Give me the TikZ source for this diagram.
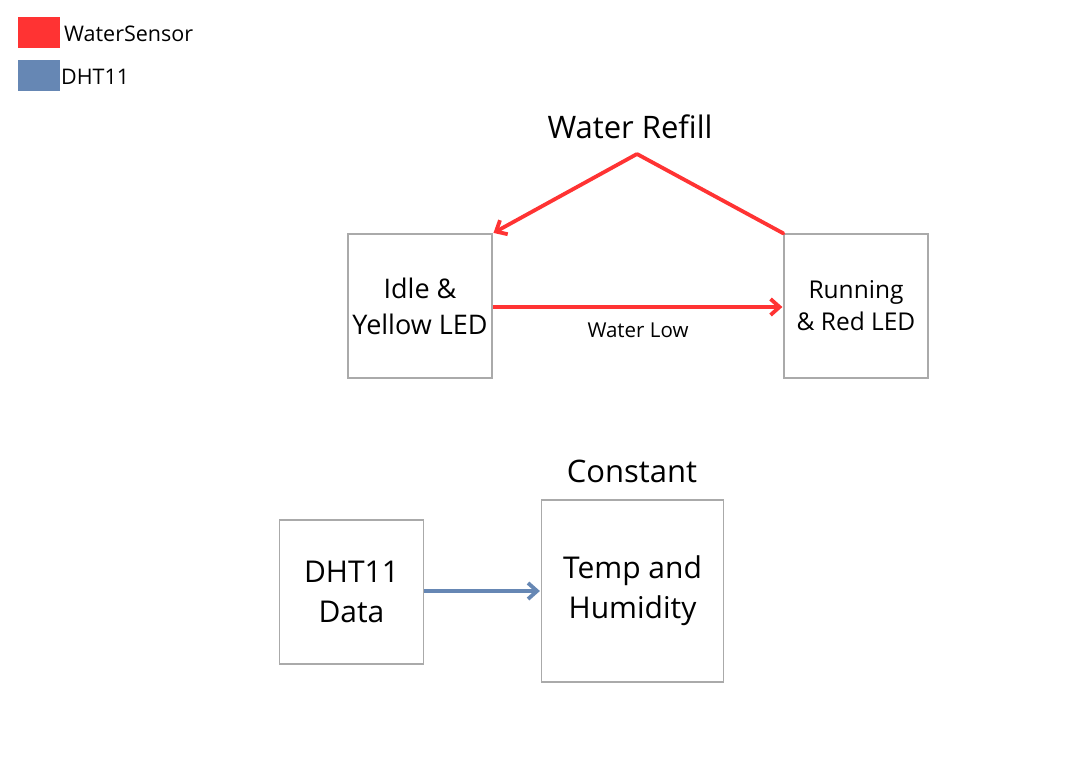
\documentclass[tikz,border=0pt]{standalone}
\usepackage{fontspec}
\setmainfont{Open Sans}
\usetikzlibrary{arrows.meta}
\definecolor{wred}{HTML}{FF3333}
\definecolor{dblue}{HTML}{6687B4}
\definecolor{boxgray}{HTML}{AAAAAA}
\tikzset{
  statebox/.style={draw=boxgray, line width=1.2pt, minimum width=#1, minimum height=#1, inner sep=0pt, align=center},
  redline/.style={draw=wred, line width=3.8pt},
  redarrow/.style={redline, -{Straight Barb[length=9pt,width=16pt,line width=3.8pt]}, shorten >=1pt},
  bluearrow/.style={draw=dblue, line width=3.8pt, -{Straight Barb[length=9pt,width=16pt,line width=3.8pt]}, shorten >=1pt},
  legsq/.style={minimum width=42pt, minimum height=31pt, inner sep=0pt, anchor=north west},
  legtxt/.style={anchor=west, inner sep=0pt, font=\fontsize{21.5}{24}\selectfont},
}
\begin{document}
\begin{tikzpicture}[x=1pt,y=-1pt]
\useasboundingbox (0,0) rectangle (1080,760);
% legend
\node[legsq, fill=wred] (lr) at (18,17) {};
\node[legtxt] (lrt) at (64,34) {WaterSensor};
\node[legsq, fill=dblue] (lb) at (18,60) {};
\node[legtxt] (lbt) at (61,77) {DHT11};
% top
\node[font=\fontsize{31}{36}\selectfont] (refill) at (630,127) {Water Refill};
\coordinate (apex) at (637,154);
\node[statebox=144pt, font=\fontsize{27}{36}\selectfont] (idle) at (420,306) {Idle \&\\Yellow LED};
\node[statebox=144pt, font=\fontsize{24.5}{32}\selectfont] (run) at (856,306) {Running\\\& Red LED};
\draw[redline, line cap=round] (run.north west) -- (apex);
\draw[redarrow] (apex) -- (idle.north east);
\draw[redarrow] (idle.east |- 0,307) -- (run.west |- 0,307);
\node[font=\fontsize{20.5}{24}\selectfont] (wlow) at (638,330) {Water Low};
% bottom
\node[font=\fontsize{31}{36}\selectfont] (const) at (632,471) {Constant};
\node[statebox=144pt, font=\fontsize{30}{40}\selectfont] (dht) at (351.5,592) {DHT11\\Data};
\node[statebox=182pt, font=\fontsize{30}{40}\selectfont] (temp) at (632.5,591) {Temp and\\Humidity};
\draw[bluearrow] (dht.east |- 0,591) -- (temp.west |- 0,591);
\end{tikzpicture}
\end{document}
